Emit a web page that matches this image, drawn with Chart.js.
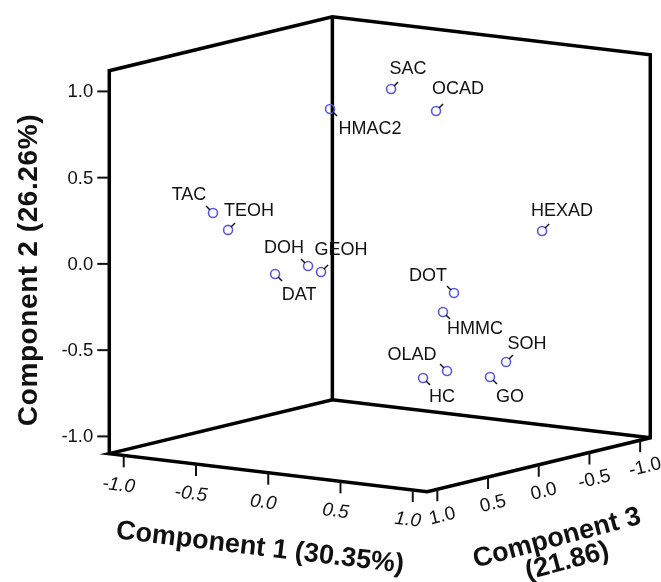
<!DOCTYPE html>
<html lang="en">
<head>
  <meta charset="UTF-8">
  <title>Component Plot</title>
  <script src="https://cdn.jsdelivr.net/npm/chart.js"></script>
  <style>
    body {
      margin: 0;
      background: #fff;
    }
    #wrap {
      width: 661px;
      height: 582px;
    }
  </style>
</head>
<body>
  <div id="wrap">
    <canvas id="plot" width="661" height="582"></canvas>
  </div>

  <script>
    // loadings on the three components
    const compounds = ['SAC', 'OCAD', 'HMAC2', 'HEXAD', 'TAC', 'TEOH', 'DOH', 'GEOH', 'DAT', 'DOT', 'HMMC', 'SOH', 'OLAD', 'HC', 'GO'];
    const comp1 = [0.008, 0.249, -0.274, 0.632, -0.733, -0.699, -0.356, -0.266, -0.514, 0.303, 0.297, 0.523, 0.255, 0.159, 0.482];
    const comp2 = [0.955, 0.837, 0.839, 0.109, 0.261, 0.152, -0.065, -0.091, -0.113, -0.227, -0.323, -0.633, -0.684, -0.720, -0.710];
    const comp3 = [-0.1, -0.2, 0.1, -0.7, 0.6, 0.5, 0.2, 0.2, 0.3, -0.3, -0.2, -0.5, -0.3, -0.2, -0.4];
    const tickValues = [-1.0, -0.5, 0.0, 0.5, 1.0];

    const axisTitles = {
      x: 'Component 1 (30.35%)',
      y: 'Component 2 (26.26%)',
      z: ['Component 3', '(21.86)']
    };

    // box extents per component
    const X_RANGE = [-1.1, 1.1];
    const Y_RANGE = [-1.1, 1.12];
    const Z_RANGE = [-1.1, 1.1];

    // label placement around each marker, in px (dx, dy of label centre)
    const labelOffsets = [
      [17, -20], [22, -22], [40, 20], [20, -20], [-24, -18], [21, -19], [-24, -18], [20, -22],
      [24, 21], [-26, -17], [32, 17], [21, -18], [-35, -16], [19, 19], [20, 20]
    ];

    // oblique view: component 1 runs right and slightly down, component 3 towards the viewer (left/down)
    function project(x, y, z) {
      return {
        x: x - 0.7017 * z,
        y: y - 0.1003 * x - 0.1420 * z
      };
    }

    const FONT = "'Liberation Sans', Arial, sans-serif";

    const points = compounds.map((name, i) => project(comp1[i], comp2[i], comp3[i]));

    const [x0, x1] = X_RANGE, [y0, y1] = Y_RANGE, [z0, z1] = Z_RANGE;
    // back walls and floor outline
    const outline = [
      project(x0, y0, z1), project(x0, y1, z1), project(x0, y1, z0), project(x1, y1, z0),
      project(x1, y0, z0), project(x1, y0, z1), project(x0, y0, z1), project(x0, y0, z0),
      project(x1, y0, z0)
    ];
    const backEdge = [project(x0, y1, z0), project(x0, y0, z0)];

    const boxAxes = {
      id: 'boxAxes',
      afterDatasetsDraw(chart) {
        const ctx = chart.ctx;
        const sx = chart.scales.x, sy = chart.scales.y;
        const px = (x, y, z) => {
          const p = project(x, y, z);
          return [sx.getPixelForValue(p.x), sy.getPixelForValue(p.y)];
        };
        ctx.save();
        ctx.strokeStyle = '#111';
        ctx.fillStyle = '#111';
        ctx.lineWidth = 2;

        // component 2 ticks, left edge
        ctx.font = '18.5px ' + FONT;
        ctx.textAlign = 'right';
        ctx.textBaseline = 'middle';
        tickValues.forEach(v => {
          const [tx, ty] = px(x0, v, z1);
          ctx.beginPath();
          ctx.moveTo(tx, ty);
          ctx.lineTo(tx - 12, ty);
          ctx.stroke();
          ctx.fillText(v.toFixed(1), tx - 16, ty + 1);
        });

        // component 1 ticks, front-left floor edge
        let a = px(x0, y0, z1), b = px(x1, y0, z1);
        let ang = Math.atan2(b[1] - a[1], b[0] - a[0]);
        ctx.font = 'italic 19px ' + FONT;
        ctx.textAlign = 'center';
        tickValues.forEach(v => {
          const [tx, ty] = px(v, y0, z1);
          ctx.beginPath();
          ctx.moveTo(tx, ty);
          ctx.lineTo(tx, ty + 12);
          ctx.stroke();
          ctx.save();
          ctx.translate(tx - 5, ty + 30);
          ctx.rotate(ang);
          ctx.fillText(v.toFixed(1), 0, 0);
          ctx.restore();
        });
        ctx.save();
        ctx.font = 'bold 27px ' + FONT;
        ctx.translate(260, 548);
        ctx.rotate(ang);
        ctx.fillText(axisTitles.x, 0, 0);
        ctx.restore();

        // component 3 ticks, front-right floor edge
        a = px(x1, y0, z1);
        b = px(x1, y0, z0);
        ang = Math.atan2(b[1] - a[1], b[0] - a[0]);
        ctx.font = '19px ' + FONT;
        tickValues.forEach(v => {
          const [tx, ty] = px(x1, y0, v);
          ctx.beginPath();
          ctx.moveTo(tx, ty);
          ctx.lineTo(tx, ty + 12);
          ctx.stroke();
          ctx.save();
          ctx.translate(tx + 5, ty + 27);
          ctx.rotate(ang);
          ctx.fillText(v.toFixed(1), 0, 0);
          ctx.restore();
        });
        ctx.save();
        ctx.font = 'bold 27px ' + FONT;
        ctx.translate(560, 550);
        ctx.rotate(-0.26);
        ctx.fillText(axisTitles.z[0], 0, -12);
        ctx.fillText(axisTitles.z[1], 4, 13);
        ctx.restore();

        // component 2 title
        ctx.save();
        ctx.font = 'bold 28px ' + FONT;
        ctx.letterSpacing = '0.6px';
        ctx.translate(29, 270);
        ctx.rotate(-Math.PI / 2);
        ctx.fillText(axisTitles.y, 0, 0);
        ctx.restore();

        // point labels with short leader marks
        ctx.font = '18px ' + FONT;
        ctx.lineWidth = 1.5;
        const meta = chart.getDatasetMeta(0);
        meta.data.forEach((el, i) => {
          const [dx, dy] = labelOffsets[i];
          const sxn = Math.sign(dx), syn = Math.sign(dy);
          ctx.beginPath();
          ctx.moveTo(el.x + 3 * sxn, el.y + 3 * syn);
          ctx.lineTo(el.x + 7 * sxn, el.y + 7 * syn);
          ctx.stroke();
          ctx.fillText(compounds[i], el.x + dx, el.y + dy);
        });
        ctx.restore();
      }
    };

    new Chart(document.getElementById('plot'), {
      type: 'scatter',
      data: {
        datasets: [
          {
            data: points,
            pointRadius: 4.5,
            pointBorderWidth: 1.6,
            pointBorderColor: 'rgb(88, 88, 232)',
            pointBackgroundColor: 'rgba(0,0,0,0)',
            order: 0
          },
          {
            data: outline,
            showLine: true,
            borderColor: '#000',
            borderWidth: 3.5,
            borderJoinStyle: 'miter',
            pointRadius: 0,
            order: 1
          },
          {
            data: backEdge,
            showLine: true,
            borderColor: '#000',
            borderWidth: 3.5,
            pointRadius: 0,
            order: 1
          }
        ]
      },
      options: {
        responsive: false,
        animation: false,
        devicePixelRatio: 1,
        layout: { padding: 0, autoPadding: false },
        scales: {
          x: { type: 'linear', min: -2.628, max: 1.946, display: false },
          y: { type: 'linear', min: -1.890, max: 1.484, display: false }
        },
        plugins: {
          legend: { display: false },
          tooltip: { enabled: false }
        }
      },
      plugins: [boxAxes]
    });
  </script>
</body>
</html>
